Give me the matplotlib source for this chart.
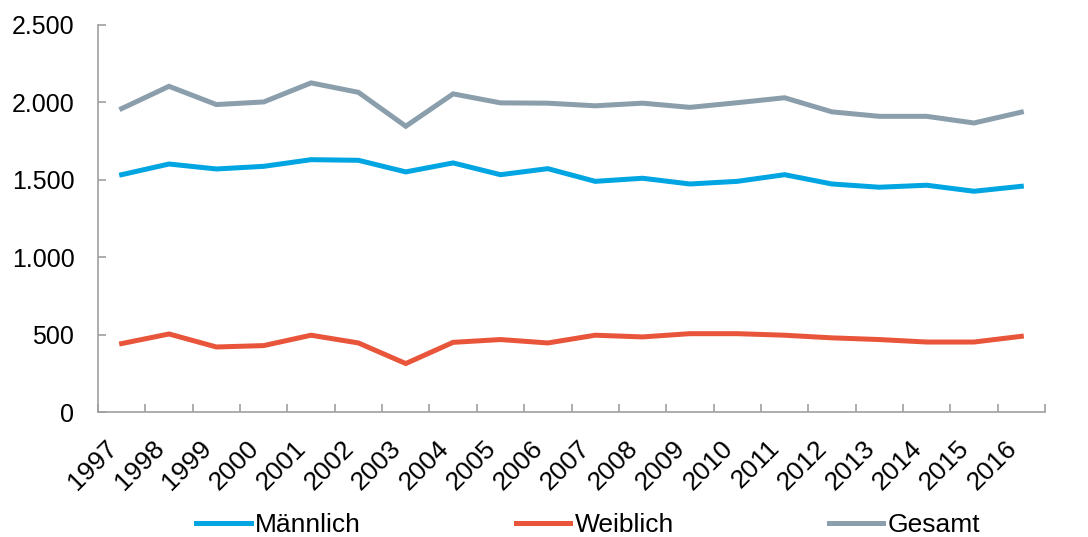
import matplotlib
matplotlib.use("Agg")
import matplotlib.pyplot as plt
import numpy as np
from matplotlib.ticker import FuncFormatter, FixedLocator

years = ["1997", "1998", "1999", "2000", "2001", "2002", "2003", "2004", "2005", "2006",
         "2007", "2008", "2009", "2010", "2011", "2012", "2013", "2014", "2015", "2016"]
maennlich = [1533, 1602, 1570, 1587, 1630, 1626, 1551, 1609, 1533, 1572,
             1490, 1510, 1473, 1490, 1533, 1473, 1452, 1465, 1426, 1458]
weiblich = [442, 504, 420, 429, 496, 446, 313, 450, 468, 446,
            496, 485, 506, 506, 496, 479, 468, 452, 452, 489]
gesamt = [1960, 2104, 1986, 2003, 2126, 2065, 1846, 2055, 1997, 1995,
          1978, 1995, 1968, 1998, 2030, 1939, 1910, 1910, 1867, 1937]

plt.rcParams['font.family'] = ['Liberation Sans', 'DejaVu Sans']

fig = plt.figure(figsize=(10.88, 5.37), dpi=100)
ax = fig.add_axes([98/1088, (537-412)/537, (1045-98)/1088, (412-25)/537])

x = np.arange(len(years))
c_m = '#00A5E1'
c_w = '#E8553B'
c_g = '#8A9EAC'
lw = 3.6
ax.plot(x, maennlich, color=c_m, lw=lw, label='Männlich', solid_joinstyle='miter')
ax.plot(x, weiblich, color=c_w, lw=lw, label='Weiblich', solid_joinstyle='miter')
ax.plot(x, gesamt, color=c_g, lw=lw, label='Gesamt', solid_joinstyle='miter')

ax.set_xlim(-0.5, len(years) - 0.5)
ax.set_ylim(0, 2500)
ax.set_yticks([0, 500, 1000, 1500, 2000, 2500])
ax.yaxis.set_major_formatter(FuncFormatter(lambda v, p: f"{int(v):,}".replace(",", ".")))

ax.set_xticks(x)
ax.set_xticklabels(years, rotation=45, ha='right', va='top', rotation_mode='default')
ax.xaxis.set_minor_locator(FixedLocator(np.arange(-0.5, len(years), 1.0)))
ax.tick_params(axis='x', which='major', length=0, pad=17, labelsize=19, colors='black')
ax.tick_params(axis='x', which='minor', length=6, width=1.2, direction='in', color='#A0A0A0')
ax.tick_params(axis='y', which='major', length=6, width=1.2, direction='in', color='#A0A0A0',
               labelsize=18, pad=17)

for s in ['top', 'right']:
    ax.spines[s].set_visible(False)
for s in ['left', 'bottom']:
    ax.spines[s].set_color('#A0A0A0')
    ax.spines[s].set_linewidth(1.2)

leg = fig.legend(loc='center', bbox_to_anchor=(588/1088, 1 - 525/537), ncol=3, frameon=False,
                 fontsize=19, handlelength=2.08, handletextpad=0.15, columnspacing=5.87)

fig.savefig('out.png', dpi=100)
